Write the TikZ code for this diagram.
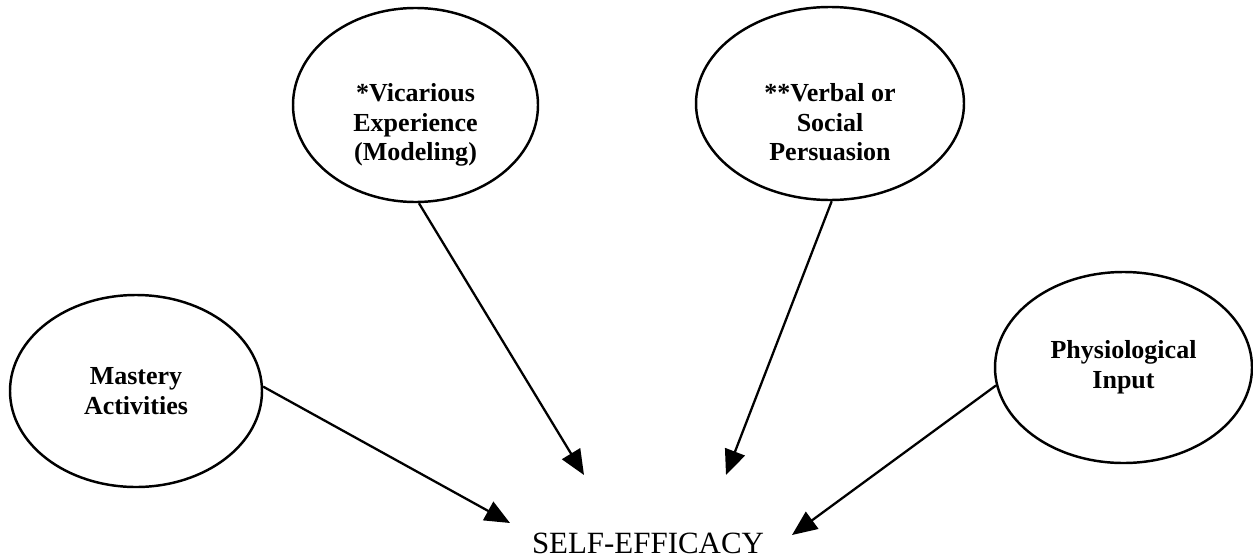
\documentclass[tikz,border=0pt]{standalone}
\usepackage{fontspec}
\setmainfont{Liberation Serif}
\usetikzlibrary{shapes.geometric,arrows.meta}

\tikzset{
    oval/.style={draw, ellipse, line width=1.4pt, inner sep=0pt},
    lbl/.style={align=center, font=\fontsize{14.8}{16.8}\selectfont\bfseries},
    feed/.style={-{Triangle[length=0.5cm,width=0.42cm]}, line width=1.3pt}
}

\begin{document}
\begin{tikzpicture}

    \useasboundingbox (0,0) rectangle (25.06,11.16);

    %sources
    \node[oval, minimum width=5.04cm, minimum height=3.84cm] (mas) at (2.72,3.34) {};
    \node[oval, minimum width=4.9cm, minimum height=3.88cm] (vic) at (8.31,9.06) {};
    \node[oval, minimum width=5.36cm, minimum height=3.86cm] (ver) at (16.6,9.09) {};
    \node[oval, minimum width=5.14cm, minimum height=3.82cm] (phy) at (22.47,3.81) {};

    \node[lbl] at (mas.center) {Mastery\\Activities};
    \node[lbl] at ([yshift=-0.4cm]vic.center) {*Vicarious\\Experience\\(Modeling)};
    \node[lbl] at ([yshift=-0.38cm]ver.center) {**Verbal or\\Social\\Persuasion};
    \node[lbl] at (phy.center) {Physiological\\Input};

    %target
    \node[anchor=base, font=\fontsize{17.6}{20}\selectfont] (se) at (12.96,0.1) {SELF-EFFICACY};

    \coordinate (tmas) at (10.2,0.7);
    \coordinate (tvic) at (11.68,1.66);
    \coordinate (tver) at (14.52,1.66);
    \coordinate (tphy) at (15.84,0.46);

    \draw[feed] (mas.2) -- (tmas);
    \draw[feed] (vic.-88) -- (tvic);
    \draw[feed] (ver.-89) -- (tver);
    \draw[feed] (phy.188) -- (tphy);

\end{tikzpicture}
\end{document}
